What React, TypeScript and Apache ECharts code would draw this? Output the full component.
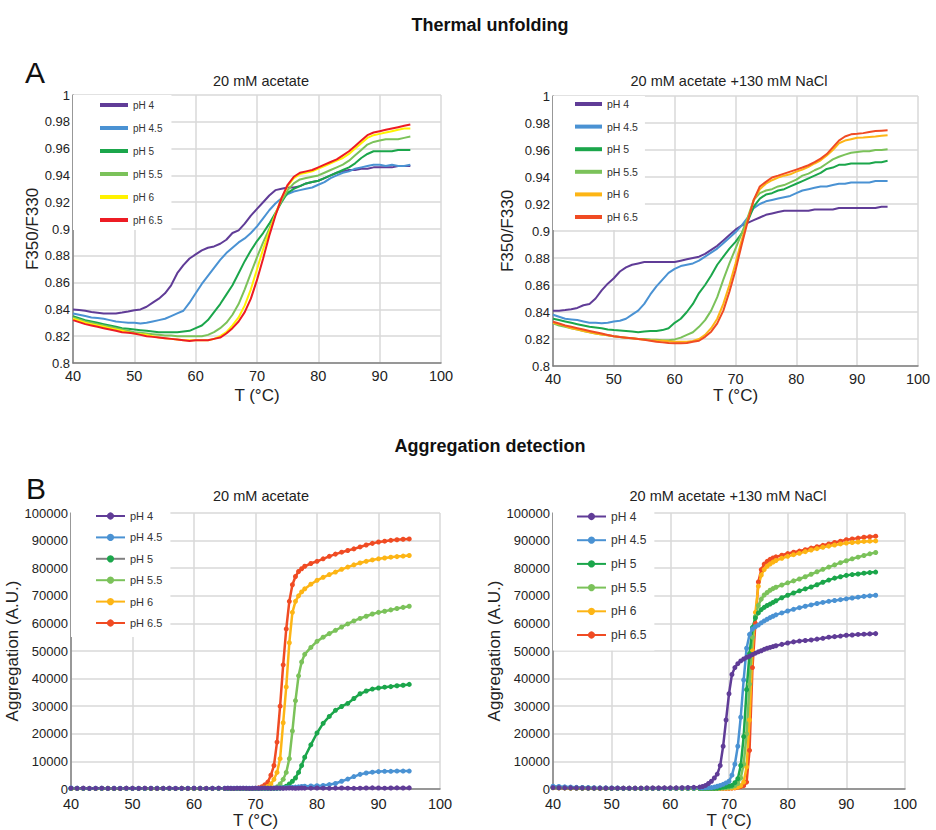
import React, { useEffect, useRef } from 'react';
import * as echarts from 'echarts';

const SANS = "'Liberation Sans', Arial, sans-serif";

const PH = ['pH 4', 'pH 4.5', 'pH 5', 'pH 5.5', 'pH 6', 'pH 6.5'];
const COLORS_A1 = ['#603C97', '#4A92D3', '#1BA64B', '#7BC25A', '#FFF200', '#ED1C24'];
const COLORS = ['#603C97', '#4A92D3', '#1BA64B', '#7BC25A', '#FDB515', '#F04B23'];

// temperature (°C) for thermal unfolding panels
const TA = [40, 41, 42, 43, 44, 45, 46, 47, 48, 49, 50, 51, 52, 53, 54, 55, 56, 57, 58, 59,
  60, 61, 62, 63, 64, 65, 66, 67, 68, 69, 70, 71, 72, 73, 74, 75, 76, 77, 78, 79,
  80, 81, 82, 83, 84, 85, 86, 87, 88, 89, 90, 91, 92, 93, 94, 95];

// A: 20 mM acetate (F350/F330)
const A1_PH4 = [0.840, 0.8395, 0.839, 0.838, 0.8375, 0.837, 0.837, 0.837, 0.8377, 0.8385,
  0.8394, 0.840, 0.842, 0.845, 0.848, 0.852, 0.858, 0.867, 0.873, 0.878,
  0.881, 0.884, 0.886, 0.887, 0.889, 0.892, 0.897, 0.899, 0.904, 0.910,
  0.915, 0.920, 0.925, 0.929, 0.930, 0.931, 0.931, 0.932, 0.934, 0.935,
  0.936, 0.938, 0.940, 0.942, 0.943, 0.944, 0.944, 0.945, 0.945, 0.946,
  0.946, 0.946, 0.946, 0.947, 0.947, 0.947];
const A1_PH45 = [0.837, 0.836, 0.835, 0.834, 0.8335, 0.833, 0.832, 0.831, 0.8305, 0.830,
  0.830, 0.8295, 0.830, 0.831, 0.832, 0.833, 0.835, 0.837, 0.839, 0.845,
  0.852, 0.859, 0.865, 0.871, 0.877, 0.882, 0.886, 0.890, 0.893, 0.897,
  0.902, 0.908, 0.914, 0.919, 0.923, 0.926, 0.928, 0.929, 0.930, 0.931,
  0.933, 0.935, 0.938, 0.940, 0.942, 0.943, 0.945, 0.946, 0.947, 0.948,
  0.948, 0.947, 0.948, 0.947, 0.947, 0.948];
const A1_PH5 = [0.835, 0.8335, 0.832, 0.831, 0.830, 0.829, 0.828, 0.827, 0.826, 0.8255,
  0.825, 0.8245, 0.824, 0.8235, 0.823, 0.823, 0.823, 0.823, 0.8235, 0.824,
  0.826, 0.828, 0.832, 0.838, 0.844, 0.851, 0.858, 0.867, 0.876, 0.884,
  0.891, 0.897, 0.904, 0.912, 0.920, 0.927, 0.930, 0.932, 0.934, 0.935,
  0.936, 0.938, 0.940, 0.942, 0.944, 0.946, 0.949, 0.953, 0.956, 0.958,
  0.958, 0.958, 0.958, 0.959, 0.959, 0.959];
const A1_PH55 = [0.834, 0.8325, 0.831, 0.830, 0.829, 0.828, 0.827, 0.826, 0.825, 0.824,
  0.823, 0.8225, 0.822, 0.8215, 0.821, 0.8205, 0.8205, 0.820, 0.820, 0.820,
  0.820, 0.820, 0.821, 0.823, 0.826, 0.830, 0.836, 0.844, 0.855, 0.867,
  0.879, 0.890, 0.900, 0.911, 0.921, 0.929, 0.934, 0.937, 0.938, 0.939,
  0.940, 0.942, 0.944, 0.946, 0.948, 0.951, 0.955, 0.959, 0.963, 0.965,
  0.966, 0.967, 0.967, 0.967, 0.968, 0.969];
const A1_PH6 = [0.833, 0.8315, 0.830, 0.829, 0.828, 0.827, 0.826, 0.825, 0.824, 0.823,
  0.822, 0.8215, 0.821, 0.820, 0.819, 0.8185, 0.818, 0.8175, 0.817, 0.817,
  0.817, 0.817, 0.817, 0.818, 0.820, 0.823, 0.828, 0.834, 0.843, 0.855,
  0.870, 0.885, 0.898, 0.911, 0.923, 0.932, 0.938, 0.941, 0.942, 0.943,
  0.945, 0.947, 0.949, 0.951, 0.953, 0.956, 0.960, 0.964, 0.968, 0.970,
  0.971, 0.972, 0.973, 0.974, 0.975, 0.975];
const A1_PH65 = [0.832, 0.8305, 0.829, 0.828, 0.827, 0.826, 0.825, 0.824, 0.823, 0.8225,
  0.822, 0.821, 0.820, 0.8195, 0.819, 0.8185, 0.818, 0.8175, 0.817, 0.8165,
  0.817, 0.817, 0.817, 0.818, 0.819, 0.822, 0.826, 0.831, 0.838, 0.848,
  0.862, 0.878, 0.895, 0.910, 0.923, 0.933, 0.939, 0.942, 0.943, 0.944,
  0.946, 0.948, 0.950, 0.952, 0.955, 0.958, 0.962, 0.966, 0.970, 0.972,
  0.973, 0.974, 0.975, 0.976, 0.977, 0.978];

// A: 20 mM acetate + 130 mM NaCl
const A2_PH4 = [0.841, 0.841, 0.8414, 0.842, 0.843, 0.845, 0.846, 0.850, 0.856, 0.861,
  0.865, 0.870, 0.873, 0.875, 0.876, 0.877, 0.877, 0.877, 0.877, 0.877,
  0.877, 0.878, 0.879, 0.880, 0.881, 0.883, 0.886, 0.889, 0.893, 0.897,
  0.901, 0.904, 0.906, 0.908, 0.910, 0.912, 0.913, 0.914, 0.915, 0.915,
  0.915, 0.915, 0.915, 0.916, 0.916, 0.916, 0.916, 0.917, 0.917, 0.917,
  0.917, 0.917, 0.917, 0.917, 0.918, 0.918];
const A2_PH45 = [0.838, 0.8365, 0.835, 0.8345, 0.834, 0.833, 0.832, 0.832, 0.8316, 0.832,
  0.833, 0.8335, 0.835, 0.838, 0.841, 0.846, 0.853, 0.859, 0.864, 0.869,
  0.872, 0.874, 0.875, 0.876, 0.878, 0.881, 0.884, 0.887, 0.891, 0.895,
  0.899, 0.904, 0.910, 0.917, 0.920, 0.922, 0.923, 0.924, 0.925, 0.926,
  0.928, 0.930, 0.931, 0.932, 0.933, 0.933, 0.934, 0.935, 0.935, 0.936,
  0.936, 0.936, 0.936, 0.937, 0.937, 0.937];
const A2_PH5 = [0.835, 0.834, 0.833, 0.832, 0.831, 0.830, 0.829, 0.8285, 0.828, 0.827,
  0.8266, 0.8263, 0.826, 0.8255, 0.825, 0.8255, 0.826, 0.826, 0.8266, 0.828,
  0.832, 0.835, 0.840, 0.846, 0.854, 0.860, 0.867, 0.875, 0.881, 0.887,
  0.892, 0.898, 0.907, 0.918, 0.924, 0.927, 0.928, 0.930, 0.931, 0.933,
  0.935, 0.937, 0.939, 0.941, 0.943, 0.946, 0.947, 0.949, 0.949, 0.950,
  0.950, 0.950, 0.950, 0.951, 0.951, 0.952];
const A2_PH55 = [0.8316, 0.830, 0.829, 0.828, 0.827, 0.826, 0.825, 0.824, 0.8234, 0.8227,
  0.822, 0.8215, 0.821, 0.8205, 0.820, 0.820, 0.8197, 0.8195, 0.819, 0.819,
  0.8197, 0.821, 0.823, 0.825, 0.829, 0.834, 0.841, 0.851, 0.864, 0.876,
  0.887, 0.898, 0.910, 0.923, 0.928, 0.930, 0.931, 0.933, 0.934, 0.936,
  0.938, 0.941, 0.9425, 0.945, 0.947, 0.950, 0.953, 0.955, 0.9566, 0.958,
  0.9586, 0.959, 0.959, 0.960, 0.960, 0.9605];
const A2_PH6 = [0.832, 0.831, 0.8296, 0.828, 0.827, 0.826, 0.825, 0.824, 0.8234, 0.8227,
  0.822, 0.8215, 0.821, 0.8205, 0.820, 0.8195, 0.819, 0.8188, 0.8187, 0.8183,
  0.818, 0.818, 0.818, 0.8185, 0.820, 0.823, 0.828, 0.835, 0.846, 0.860,
  0.876, 0.893, 0.908, 0.923, 0.931, 0.935, 0.9376, 0.9396, 0.941, 0.942,
  0.944, 0.9455, 0.9475, 0.950, 0.9524, 0.956, 0.960, 0.965, 0.967, 0.968,
  0.969, 0.9693, 0.9697, 0.970, 0.9705, 0.971];
const A2_PH65 = [0.8328, 0.8315, 0.830, 0.829, 0.828, 0.827, 0.826, 0.825, 0.824, 0.823,
  0.822, 0.8215, 0.821, 0.8205, 0.820, 0.8195, 0.8187, 0.818, 0.8175, 0.817,
  0.8168, 0.8168, 0.817, 0.818, 0.8187, 0.8216, 0.8254, 0.8316, 0.841, 0.855,
  0.871, 0.8895, 0.907, 0.923, 0.933, 0.9364, 0.9396, 0.941, 0.9425, 0.944,
  0.9455, 0.947, 0.9487, 0.951, 0.9536, 0.957, 0.962, 0.967, 0.970, 0.9716,
  0.972, 0.9725, 0.9734, 0.974, 0.9743, 0.9746];

// temperature (°C) for aggregation panels
const TB = [40, 41, 42, 43, 44, 45, 46, 47, 48, 49, 50, 51, 52, 53, 54, 55, 56, 57, 58, 59, 60, 61, 62, 63, 64,
  65, 65.5, 66, 66.5, 67, 67.5, 68, 68.5, 69, 69.5, 70, 70.5, 71, 71.5, 72, 72.5, 73, 73.5, 74, 74.5, 75, 75.5, 76, 76.5, 77, 77.5, 78,
  79, 80, 81, 82, 83, 84, 85, 86, 87, 88, 89, 90, 91, 92, 93, 94, 95];

// B: 20 mM acetate (aggregation, A.U.)
const B1_PH4 = [300, 250, 300, 200, 250, 300, 200, 250, 200, 300, 250, 200, 300, 250, 200, 250, 300, 200, 250, 200, 300, 250, 200, 250, 300,
  250, 300, 250, 200, 300, 250, 300, 250, 200, 250, 300, 250, 300, 350, 300, 250, 300, 350, 300, 250, 300, 350, 300, 250, 300, 350, 300,
  300, 350, 300, 250, 300, 350, 300, 250, 300, 350, 400, 350, 300, 350, 400, 350, 400];
const B1_PH45 = [350, 300, 300, 250, 300, 300, 250, 300, 300, 250, 300, 300, 250, 300, 300, 250, 300, 300, 250, 300, 300, 300, 250, 300, 300,
  300, 300, 300, 300, 300, 300, 300, 300, 300, 300, 300, 300, 300, 300, 300, 300, 320, 350, 400, 450, 500, 550, 600, 700, 800, 900, 1000,
  1100, 1200, 1300, 1600, 2000, 2800, 3600, 4500, 5300, 5800, 6100, 6300, 6400, 6400, 6500, 6500, 6500];
const B1_PH5 = [200, 250, 200, 150, 200, 250, 200, 150, 200, 250, 200, 200, 150, 200, 250, 200, 200, 150, 200, 250, 200, 200, 150, 200, 200,
  200, 200, 200, 200, 200, 200, 200, 200, 200, 200, 200, 200, 200, 200, 200, 200, 200, 220, 300, 500, 1000, 1800, 2800, 4000, 6000, 8500, 11500,
  16000, 20300, 23800, 26300, 28500, 29900, 31000, 32800, 34500, 35500, 36200, 36600, 36900, 37100, 37400, 37600, 37900];
const B1_PH55 = [250, 200, 200, 250, 200, 200, 250, 200, 200, 250, 200, 200, 250, 200, 200, 250, 200, 200, 250, 200, 200, 250, 200, 200, 250,
  200, 200, 200, 200, 200, 200, 200, 200, 200, 200, 200, 200, 200, 200, 200, 250, 300, 800, 1800, 3500, 6000, 11000, 21000, 32000, 41000, 46000, 48800,
  51300, 53500, 55000, 56300, 57500, 58700, 59800, 60900, 61800, 62600, 63400, 64000, 64400, 64900, 65400, 65800, 66200];
const B1_PH6 = [200, 250, 200, 200, 150, 200, 250, 200, 200, 150, 200, 250, 200, 200, 150, 200, 250, 200, 200, 150, 200, 250, 200, 200, 200,
  200, 200, 200, 200, 200, 200, 200, 200, 200, 200, 200, 200, 250, 500, 900, 1800, 3500, 6000, 11000, 24000, 37000, 53000, 64000, 68000, 70000, 71400, 72500,
  74200, 75600, 76700, 77700, 78600, 79600, 80400, 81200, 81900, 82500, 83000, 83400, 83700, 84000, 84200, 84400, 84600];
const B1_PH65 = [150, 200, 250, 200, 150, 200, 250, 200, 150, 200, 250, 200, 150, 200, 250, 200, 150, 200, 250, 200, 150, 200, 250, 200, 200,
  200, 200, 200, 200, 200, 200, 200, 200, 200, 200, 250, 400, 800, 1500, 2500, 5000, 8500, 17000, 30000, 45000, 58000, 68000, 74000, 77000, 78800, 79800, 80700,
  81700, 82500, 83400, 84300, 85100, 85800, 86400, 87000, 87700, 88400, 89000, 89500, 89800, 90100, 90300, 90500, 90600];

// B: 20 mM acetate + 130 mM NaCl
const B2_PH4 = [500, 450, 400, 400, 350, 350, 300, 300, 300, 300, 300, 300, 300, 300, 300, 300, 350, 350, 350, 400, 400, 400, 450, 500, 600,
  700, 900, 1300, 2000, 2800, 4000, 5400, 8500, 15500, 25000, 34500, 41500, 44000, 45400, 46400, 47100, 47700, 48100, 48700, 49200, 49700, 50100, 50600, 51000, 51300, 51600, 51900,
  52400, 52900, 53300, 53600, 53800, 54000, 54300, 54600, 55000, 55200, 55400, 55700, 55800, 56000, 56100, 56200, 56300];
const B2_PH45 = [1000, 900, 800, 700, 600, 550, 500, 450, 400, 400, 350, 350, 300, 300, 300, 300, 300, 300, 300, 300, 300, 300, 300, 350, 350,
  400, 400, 450, 500, 500, 700, 1000, 1300, 1700, 2200, 2800, 5000, 9000, 15500, 26000, 39500, 51000, 56000, 58000, 58800, 59400, 60200, 60900, 61500, 62100, 62600, 63100,
  63800, 64500, 65100, 65700, 66200, 66700, 67200, 67600, 68000, 68300, 68600, 68900, 69200, 69500, 69800, 70000, 70200];
const B2_PH5 = [600, 550, 500, 450, 400, 350, 350, 300, 300, 300, 250, 250, 250, 250, 250, 250, 250, 250, 250, 250, 250, 250, 250, 250, 250,
  250, 250, 250, 250, 250, 250, 300, 500, 700, 900, 1100, 1300, 2300, 3700, 8500, 19000, 36000, 49000, 58500, 62000, 63800, 65000, 65800, 66500, 67000, 67600, 68200,
  69300, 70200, 71000, 71800, 72500, 73200, 74000, 74900, 75700, 76400, 76900, 77400, 77700, 77900, 78200, 78400, 78600];
const B2_PH55 = [500, 450, 400, 400, 350, 350, 300, 300, 300, 250, 250, 250, 250, 250, 250, 250, 250, 250, 250, 250, 250, 250, 250, 250, 250,
  250, 250, 250, 250, 250, 250, 250, 300, 400, 500, 600, 800, 1200, 2000, 4000, 9000, 20000, 38000, 55000, 62500, 66500, 68800, 70300, 71200, 72000, 72600, 73100,
  73900, 74700, 75400, 76100, 76900, 77800, 78700, 79600, 80400, 81200, 82000, 82700, 83400, 84000, 84600, 85200, 85700];
const B2_PH6 = [500, 450, 400, 350, 350, 300, 300, 300, 250, 250, 250, 250, 250, 250, 250, 250, 250, 250, 250, 250, 250, 250, 250, 250, 250,
  250, 250, 250, 250, 250, 250, 250, 250, 300, 300, 350, 400, 500, 700, 1200, 2500, 8000, 25000, 50000, 64000, 73500, 77500, 79500, 80700, 81500, 82200, 82800,
  83600, 84300, 84900, 85400, 86000, 86600, 87100, 87600, 88000, 88400, 88800, 89100, 89300, 89500, 89700, 89800, 89900];
const B2_PH65 = [500, 450, 400, 350, 350, 300, 300, 300, 250, 250, 250, 250, 250, 250, 250, 250, 250, 250, 250, 250, 250, 250, 250, 250, 250,
  200, 200, 200, 200, 200, 200, 200, 200, 250, 250, 250, 300, 400, 600, 900, 1200, 2500, 14000, 44000, 60000, 75000, 79500, 81500, 82500, 83200, 83700, 84100,
  84700, 85300, 85800, 86200, 86700, 87300, 87800, 88300, 88800, 89300, 89800, 90300, 90600, 90900, 91200, 91400, 91600];

const PANELS = [
  { key: 'A1', x: TA, ys: [A1_PH4, A1_PH45, A1_PH5, A1_PH55, A1_PH6, A1_PH65], colors: COLORS_A1, dots: false },
  { key: 'A2', x: TA, ys: [A2_PH4, A2_PH45, A2_PH5, A2_PH55, A2_PH6, A2_PH65], colors: COLORS, dots: false },
  { key: 'B1', x: TB, ys: [B1_PH4, B1_PH45, B1_PH5, B1_PH55, B1_PH6, B1_PH65], colors: COLORS, dots: true },
  { key: 'B2', x: TB, ys: [B2_PH4, B2_PH45, B2_PH5, B2_PH55, B2_PH6, B2_PH65], colors: COLORS, dots: true },
];

const GRIDS = [
  { left: 73, top: 95, width: 368, height: 268 },
  { left: 553, top: 96, width: 365, height: 270 },
  { left: 71, top: 513, width: 369, height: 276 },
  { left: 553, top: 513, width: 352, height: 276 },
];

function buildOption() {
  const series: any[] = [];
  PANELS.forEach((p, gi) => {
    const list: any[] = p.ys.map((y, si) => ({
      type: 'line',
      name: PH[si] + '#' + p.key,
      xAxisIndex: gi,
      yAxisIndex: gi,
      data: p.x.map((t, i) => [t, y[i]]),
      symbol: p.dots ? 'circle' : 'none',
      showSymbol: p.dots,
      symbolSize: 5,
      lineStyle: { color: p.colors[si], width: p.dots ? 2.5 : 2 },
      itemStyle: { color: p.colors[si] },
      silent: true,
      emphasis: { disabled: true },
    }));
    if (p.dots) list.reverse();
    series.push(...list);
  });

  const axisLine = { show: true, lineStyle: { color: '#7F7F7F', width: 1.5 } };
  const splitLine = { show: true, lineStyle: { color: '#D9D9D9', width: 1.5 } };
  const nameStyle = { fontFamily: SANS, fontSize: 17, color: '#222' };
  const xNameGaps = [24, 21, 23, 23];
  const yNameGaps = [30, 37, 28, 36];
  const xLabelMargins = [5, 5, 7, 7];

  const xAxis = GRIDS.map((_, i) => ({
    type: 'value', gridIndex: i, min: 40, max: 100, interval: 10,
    name: 'T (°C)', nameLocation: 'middle', nameGap: xNameGaps[i], nameTextStyle: nameStyle,
    axisLine, axisTick: { show: false }, splitLine,
    axisLabel: { fontFamily: SANS, fontSize: 14.5, color: '#222', margin: xLabelMargins[i] },
  }));
  const yAxis = GRIDS.map((_, i) => {
    const isA = i < 2;
    return {
      type: 'value', gridIndex: i,
      min: isA ? 0.8 : 0, max: isA ? 1 : 100000, interval: isA ? 0.02 : 10000,
      name: isA ? 'F350/F330' : 'Aggregation (A.U.)', nameLocation: 'middle', nameRotate: 90,
      nameGap: yNameGaps[i], nameTextStyle: nameStyle,
      axisLine, axisTick: { show: false }, splitLine,
      axisLabel: {
        fontFamily: SANS, fontSize: 13, color: '#222', margin: 3,
        formatter: (v: number) => String(v),
      },
    };
  });

  const legendCfg = [
    { left: 73, top: 95, padding: [3, 9, 3, 27], itemGap: 9, itemWidth: 28, itemHeight: 4, fontSize: 10, lh: 14 },
    { left: 553, top: 96, padding: [1, 7, 6, 22], itemGap: 8.6, itemWidth: 27, itemHeight: 4, fontSize: 10.5, lh: 14 },
    { left: 71, top: 507, padding: [2, 8, 7, 24], itemGap: 7.4, itemWidth: 29, itemHeight: 9, fontSize: 11, lh: 14 },
    { left: 553, top: 507, padding: [2, 8, 8, 23], itemGap: 8.7, itemWidth: 29, itemHeight: 9, fontSize: 12, lh: 15 },
  ];
  const legend = PANELS.map((p, i) => {
    const c = legendCfg[i];
    return {
      orient: 'vertical', left: c.left, top: c.top, padding: c.padding,
      itemGap: c.itemGap, itemWidth: c.itemWidth, itemHeight: c.itemHeight,
      backgroundColor: '#fff', selectedMode: false,
      icon: p.dots ? undefined : 'rect',
      textStyle: { fontFamily: SANS, fontSize: c.fontSize, color: '#333', lineHeight: c.lh },
      formatter: (n: string) => n.split('#')[0],
      data: PH.map((ph) => {
        const name = ph + '#' + p.key;
        if (p.key === 'B1' && ph === 'pH 5') return { name, lineStyle: { color: '#808080' } };
        return { name };
      }),
    };
  });

  const txt = (text: string, x: number, y: number, size: number, weight = 'normal', color = '#222') => ({
    type: 'text', x, y, silent: true,
    style: { text, fontSize: size, fontFamily: SANS, fontWeight: weight, fill: color, align: 'center', verticalAlign: 'middle' },
  });

  const graphic = [
    txt('Thermal unfolding', 490, 25, 18, 'bold', '#111'),
    txt('Aggregation detection', 490, 446, 18, 'bold', '#111'),
    txt('A', 35, 72, 30, 'normal', '#111'),
    txt('B', 36, 488, 30, 'normal', '#111'),
    txt('20 mM acetate', 261, 81, 14.5),
    txt('20 mM acetate +130 mM NaCl', 729, 81, 14.5),
    txt('20 mM acetate', 261, 496, 14.5),
    txt('20 mM acetate +130 mM NaCl', 728, 496, 14.5),
  ];

  return {
    animation: false,
    backgroundColor: '#fff',
    grid: GRIDS.map((g) => ({ ...g, containLabel: false })),
    xAxis, yAxis, legend, series, graphic,
  };
}

export default function App() {
  const ref = useRef<HTMLDivElement>(null);
  useEffect(() => {
    if (!ref.current) return;
    const chart = echarts.init(ref.current, undefined, { renderer: 'svg' });
    chart.setOption(buildOption() as any);
    return () => chart.dispose();
  }, []);
  return <div ref={ref} style={{ position: 'absolute', left: 0, top: 0, width: 936, height: 830 }} />;
}
